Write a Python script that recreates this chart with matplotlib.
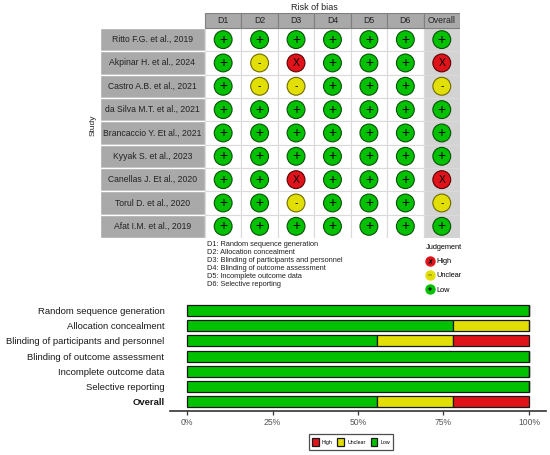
import numpy as np
import matplotlib
matplotlib.use('Agg')
import matplotlib.pyplot as plt
from matplotlib.patches import Rectangle
from matplotlib.lines import Line2D

plt.rcParams['font.family'] = ['Liberation Sans', 'DejaVu Sans']

#----------------------------------------------------------------------
studies = ['Ritto F.G. et al., 2019', 'Akpinar H. et al., 2024',
           'Castro A.B. et al., 2021', 'da Silva M.T. et al., 2021',
           'Brancaccio Y. Et al., 2021', 'Kyyak S. et al., 2023',
           'Canellas J. Et al., 2020', 'Torul D. et al., 2020',
           'Afat I.M. et al., 2019']
columns = ['D1', 'D2', 'D3', 'D4', 'D5', 'D6', 'Overall']
# L = low, U = unclear, H = high
judgements = [
    ['L', 'L', 'L', 'L', 'L', 'L', 'L'],
    ['L', 'U', 'H', 'L', 'L', 'L', 'H'],
    ['L', 'U', 'U', 'L', 'L', 'L', 'U'],
    ['L', 'L', 'L', 'L', 'L', 'L', 'L'],
    ['L', 'L', 'L', 'L', 'L', 'L', 'L'],
    ['L', 'L', 'L', 'L', 'L', 'L', 'L'],
    ['L', 'L', 'H', 'L', 'L', 'L', 'H'],
    ['L', 'L', 'U', 'L', 'L', 'L', 'U'],
    ['L', 'L', 'L', 'L', 'L', 'L', 'L'],
]
domains = ['Random sequence generation', 'Allocation concealment',
           'Blinding of participants and personnel',
           'Blinding of outcome assessment', 'Incomplete outcome data',
           'Selective reporting', 'Overall']
domain_notes = ['D1: Random sequence generation', 'D2: Allocation concealment',
                'D3: Blinding of participants and personnel',
                'D4: Blinding of outcome assessment',
                'D5: Incomplete outcome data', 'D6: Selective reporting']
xticks_pct = [0, 25, 50, 75, 100]

colors = {'L': '#02C100', 'U': '#E2DF07', 'H': '#E0131B'}
edges = {'L': '#0B4F0B', 'U': '#6E6A00', 'H': '#5A0000'}
symbols = {'L': '+', 'U': '-', 'H': 'X'}
names = {'L': 'Low', 'U': 'Unclear', 'H': 'High'}

fig = plt.figure(figsize=(5.5, 4.55), dpi=100)

# ---------------- traffic light plot ----------------
W, H = 550.0, 455.0
ax = fig.add_axes([100/W, 1-238/H, 360/W, 225/H])
lab_w = 2.88
hdr_h = 0.64
nrow, ncol = len(studies), len(columns)
ax.set_xlim(0.5 - lab_w, ncol + 0.5)
ax.set_ylim(nrow + 0.5, 0.5 - hdr_h)
ax.set_axis_off()

for i, name in enumerate(studies):
    y = i + 1
    ax.add_patch(Rectangle((0.5 - lab_w, y - 0.5), lab_w, 1, fc='#A9A9A9',
                           ec='white', lw=1.0))
    ax.text(0.5 - lab_w/2, y, name, ha='center', va='center', fontsize=6.2,
            color='#222222')
    for j in range(ncol):
        fc = '#D3D3D3' if columns[j] == 'Overall' else 'white'
        ax.add_patch(Rectangle((j + 0.5, y - 0.5), 1, 1, fc=fc,
                               ec='#DADADA', lw=0.8))
for j, col in enumerate(columns):
    ax.add_patch(Rectangle((j + 0.5, 0.5 - hdr_h), 1, hdr_h, fc='#A9A9A9',
                           ec='#7F7F7F', lw=0.8))
    ax.text(j + 1, 0.5 - hdr_h/2, col, ha='center', va='center',
            fontsize=6.3, color='#222222')

xs, ys, cs, es, ss = [], [], [], [], []
for i, row in enumerate(judgements):
    for j, v in enumerate(row):
        xs.append(j + 1); ys.append(i + 1)
        cs.append(colors[v]); es.append(edges[v]); ss.append(symbols[v])
ax.scatter(xs, ys, s=165, c=cs, edgecolors=es, linewidths=0.8, zorder=3)
for x, y, s in zip(xs, ys, ss):
    ax.text(x, y, s, ha='center', va='center',
            fontsize=10 if s == '+' else 7.5,
            color='black', zorder=4)

ax.text(3.5, 0.5 - hdr_h - 0.06, 'Risk of bias', ha='center', va='bottom',
        fontsize=6.5, color='#222222')
fig.text(93/W, 1-125/H, 'Study', rotation=90, ha='center', va='center',
         fontsize=6, color='#222222')

for k, note in enumerate(domain_notes):
    fig.text(207/W, 1-(244 + k*8)/H, note, ha='left', va='center',
             fontsize=5.3, color='#222222')

handles = []
for key in ['H', 'U', 'L']:
    circ = Line2D([], [], ls='none', marker='o', ms=6.5, mfc=colors[key],
                  mec=colors[key])
    sym = Line2D([], [], ls='none', marker='$%s$' % symbols[key], ms=2.6,
                 color='black', mew=0.3)
    handles.append((circ, sym))
leg1 = fig.legend(handles, [names[k] for k in ['H', 'U', 'L']],
                  title='Judgement', loc='upper left',
                  bbox_to_anchor=(421/W, 1-239/H), frameon=False,
                  fontsize=5.3, title_fontsize=5.3, handlelength=1.0,
                  handletextpad=0.4, labelspacing=0.95, borderpad=0.2)

# ---------------- summary bar plot ----------------
ax2 = fig.add_axes([170/W, 1-411/H, 376/W, 110/H])
mat = np.array(judgements)
order = ['L', 'U', 'H']
pct = {k: np.array([np.mean(mat[:, j] == k) * 100 for j in range(ncol)])
       for k in order}
ypos = np.arange(len(domains))
left = np.zeros(len(domains))
bars = {}
for k in order:
    bars[k] = ax2.barh(ypos, pct[k], left=left, height=0.72, color=colors[k],
                       edgecolor='#1A1A1A', lw=0.9)
    left += pct[k]
ax2.set_xlim(-5, 105)
ax2.set_ylim(len(domains) - 0.4, -0.6)
ax2.set_yticks(ypos)
ax2.set_yticklabels(domains, fontsize=6.8, color='#1A1A1A')
ax2.get_yticklabels()[-1].set_fontweight('bold')
ax2.set_xticks(xticks_pct)
ax2.set_xticklabels(['%d%%' % v for v in xticks_pct], fontsize=6.2,
                    color='#555555')
ax2.tick_params(axis='y', length=0, pad=4)
ax2.tick_params(axis='x', length=3, color='#333333', width=0.9, pad=2)
for sp in ['top', 'right', 'left']:
    ax2.spines[sp].set_visible(False)
ax2.spines['bottom'].set_color('#333333')
ax2.spines['bottom'].set_linewidth(1.2)

leg2 = fig.legend([bars['H'], bars['U'], bars['L']], ['High', 'Unclear', 'Low'],
                  loc='center', bbox_to_anchor=(351/W, 1-442/H), ncol=3,
                  fontsize=3.8, frameon=True, fancybox=False, edgecolor='#222222',
                  handlelength=1.3, handleheight=2.2, handletextpad=0.6,
                  columnspacing=0.9, borderpad=0.6)
leg2.get_frame().set_linewidth(0.9)

fig.savefig('out.png', dpi=100, facecolor='white')
